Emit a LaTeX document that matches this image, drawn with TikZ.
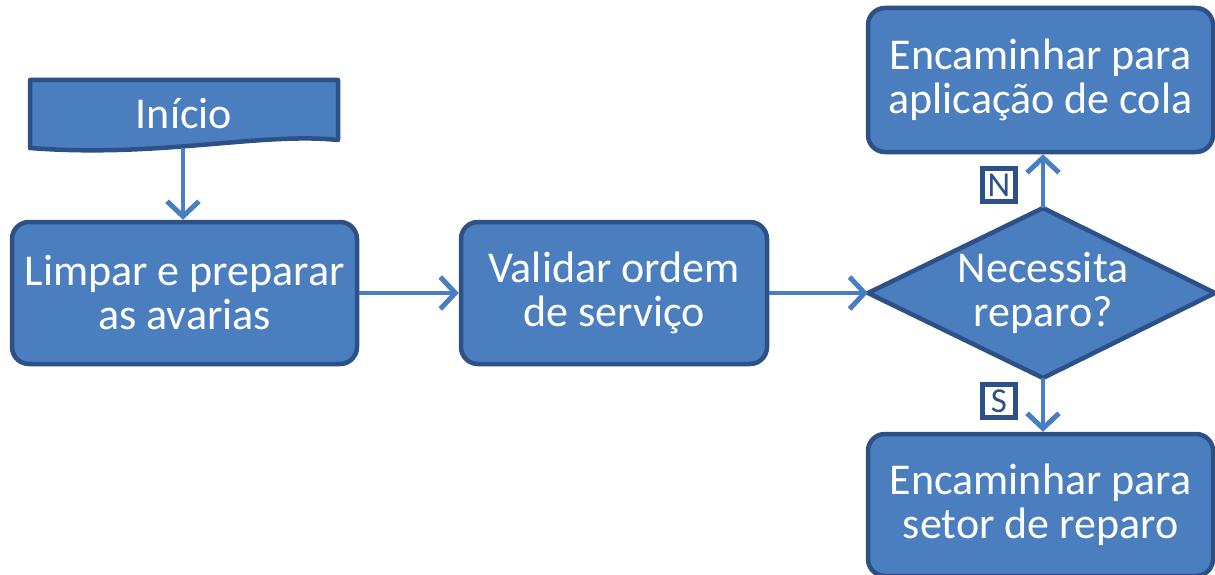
\documentclass[tikz,border=0pt]{standalone}
\usepackage{fontspec}
\setmainfont{Carlito}
\usetikzlibrary{shapes.geometric,arrows.meta}
\definecolor{boxfill}{HTML}{4A7EBF}
\definecolor{boxline}{HTML}{2D5086}
\definecolor{arrowcol}{HTML}{4A7EC4}
\tikzset{
  label font/.style={font=\fontsize{44}{44}\selectfont},
  procbox/.style={draw=boxline, fill=boxfill, line width=4.5pt, rounded corners=17pt,
    text=white, label font, align=center, inner sep=0pt},
  flow/.style={draw=arrowcol, line width=4pt, -{Straight Barb[length=15pt,width=32pt,line width=5pt]}},
  tag/.style={draw=boxline, fill=white, line width=4.5pt, minimum size=33pt, inner sep=0pt,
    text=boxline, font=\fontsize{35}{35}\selectfont},
}
\begin{document}
\begin{tikzpicture}[x=1pt,y=-1pt]
\useasboundingbox (0,0) rectangle (1215,575);
% start terminal (document shape with wavy bottom)
\draw[draw=boxline, fill=boxfill, line width=4.5pt, line join=round]
  (30,80) -- (338,80) -- (338,140) .. controls (260,132) and (160,158) .. (30,148) -- cycle;
\node[text=white, label font, inner sep=0pt] (inicio) at (184,114) {Início};
\coordinate (inicioB) at (183,148);
% process boxes
\node[procbox, minimum width=345pt, minimum height=142pt] (limpar) at (184.5,293) {Limpar e preparar\\as avarias};
\node[procbox, minimum width=306pt, minimum height=142pt] (validar) at (614,293) {Validar ordem\\de serviço};
\node[procbox, minimum width=345pt, minimum height=144pt] (cola) at (1040.5,80) {Encaminhar para\\aplicação de cola};
\node[procbox, minimum width=345pt, minimum height=142pt] (reparo) at (1040.5,505) {Encaminhar para\\setor de reparo};
% decision
\draw[draw=boxline, fill=boxfill, line width=4.5pt, line join=miter]
  (868,293) -- (1043,208) -- (1215,293) -- (1043,378) -- cycle;
\node[text=white, label font, align=center, inner sep=0pt] (decisao) at (1043,293) {Necessita\\reparo?};
\coordinate (decL) at (868,293);
\coordinate (decT) at (1043,208);
\coordinate (decB) at (1043,378);
% connectors
\draw[flow] (inicioB) -- (inicioB |- limpar.north);
\draw[flow] (limpar.east) -- (validar.west);
\draw[flow] (validar.east) -- (decL);
\draw[flow] (decT) -- (decT |- cola.south);
\draw[flow] (decB) -- (decB |- reparo.north);
% branch labels
\node[tag] (tn) at (999,185) {N};
\node[tag] (ts) at (999,401) {S};
\end{tikzpicture}
\end{document}
